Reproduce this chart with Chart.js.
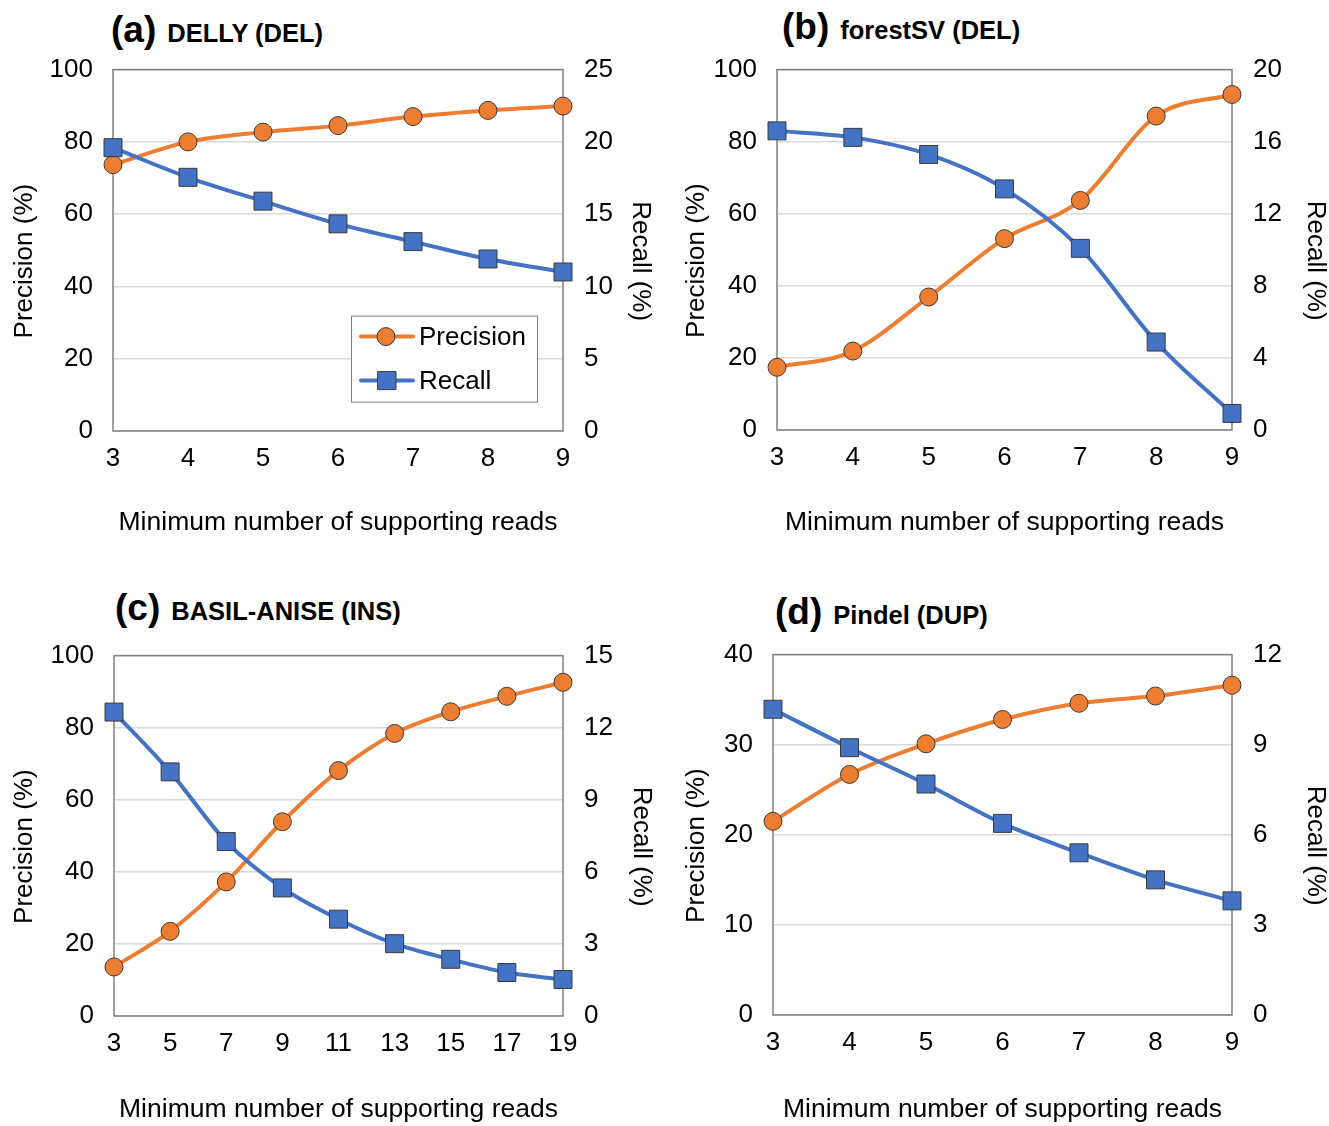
<!DOCTYPE html>
<html lang="en">
<head>
<meta charset="UTF-8">
<title>Precision and recall vs minimum number of supporting reads</title>
<script src="https://cdn.jsdelivr.net/npm/chart.js"></script>
<style>
  body { margin: 0; width: 1329px; height: 1126px; position: relative; overflow: hidden; background: #fff;
         font-family: "Liberation Sans", Arial, sans-serif; }
  .panel-title { position: absolute; display: flex; align-items: baseline; font-weight: bold; color: #000;
                 white-space: nowrap; line-height: 1; }
  .panel-title .tag { font-size: 37px; }
  .panel-title .name { font-size: 25.5px; margin-left: 11px; }
  canvas { position: absolute; }
</style>
</head>
<body>
<div class="panel-title" style="left:111px; top:11px;"><span class="tag">(a)</span><span class="name">DELLY (DEL)</span></div>
<div class="panel-title" style="left:782px; top:8px;"><span class="tag">(b)</span><span class="name">forestSV (DEL)</span></div>
<div class="panel-title" style="left:115px; top:589px;"><span class="tag">(c)</span><span class="name">BASIL-ANISE (INS)</span></div>
<div class="panel-title" style="left:775px; top:593px;"><span class="tag">(d)</span><span class="name">Pindel (DUP)</span></div>

<canvas id="chartA" width="664" height="517" style="left:0; top:33px;"></canvas>
<canvas id="chartB" width="665" height="517" style="left:664px; top:33px;"></canvas>
<canvas id="chartC" width="664" height="507" style="left:0; top:619px;"></canvas>
<canvas id="chartD" width="665" height="508" style="left:664px; top:618px;"></canvas>

<script>
    // (a) DELLY (DEL)
    const readsA = ['3', '4', '5', '6', '7', '8', '9'];
    const precisionA = [73.7, 80.0, 82.7, 84.5, 87.0, 88.7, 89.9];
    const recallA = [19.6, 17.55, 15.9, 14.33, 13.1, 11.9, 11.0];

    // (b) forestSV (DEL)
    const readsB = ['3', '4', '5', '6', '7', '8', '9'];
    const precisionB = [17.4, 21.9, 36.9, 53.1, 63.7, 87.1, 93.1];
    const recallB = [16.6, 16.24, 15.29, 13.38, 10.08, 4.88, 0.92];

    // (c) BASIL-ANISE (INS)
    const readsC = ['3', '5', '7', '9', '11', '13', '15', '17', '19'];
    const precisionC = [13.6, 23.5, 37.2, 53.9, 68.1, 78.4, 84.4, 88.7, 92.6];
    const recallC = [12.65, 10.16, 7.26, 5.33, 4.03, 3.01, 2.36, 1.81, 1.52];

    // (d) Pindel (DUP)
    const readsD = ['3', '4', '5', '6', '7', '8', '9'];
    const precisionD = [21.5, 26.7, 30.1, 32.8, 34.6, 35.4, 36.6];
    const recallD = [10.18, 8.9, 7.69, 6.38, 5.4, 4.5, 3.8];

    const FONT = '"Liberation Sans", Arial, sans-serif';
    const ORANGE = '#ED7D31';
    const BLUE = '#4472C4';
    const MARKER_EDGE = '#3a3a3a';
    // the axis titles sit a little below the middle of the plot in the original
    const NBSP3 = '\u00a0\u00a0\u00a0';

    // grey frame round the plot area, under the lines
    const plotBorder = {
        id: 'plotBorder',
        beforeDatasetsDraw(chart) {
            const a = chart.chartArea;
            const ctx = chart.ctx;
            ctx.save();
            ctx.strokeStyle = '#808080';
            ctx.lineWidth = 1.5;
            ctx.strokeRect(a.left, a.top, a.right - a.left, a.bottom - a.top);
            ctx.restore();
        }
    };

    // boxed legend inside the plot (panel a only)
    const boxLegend = {
        id: 'boxLegend',
        afterDraw(chart, args, opts) {
            if (!opts.show) return;
            const ctx = chart.ctx;
            const left = chart.chartArea.left + opts.dx;
            const top = chart.chartArea.top + opts.dy;
            ctx.save();
            ctx.fillStyle = '#fff';
            ctx.fillRect(left, top, opts.w, opts.h);
            ctx.strokeStyle = '#808080';
            ctx.lineWidth = 1;
            ctx.strokeRect(left + 0.5, top + 0.5, opts.w, opts.h);
            chart.data.datasets.forEach((ds, i) => {
                const y = top + 21 + i * 44;
                ctx.strokeStyle = ds.borderColor;
                ctx.lineWidth = 4;
                ctx.lineCap = 'round';
                ctx.beginPath();
                ctx.moveTo(left + 10, y);
                ctx.lineTo(left + 62, y);
                ctx.stroke();
                ctx.fillStyle = ds.pointBackgroundColor;
                ctx.strokeStyle = MARKER_EDGE;
                ctx.lineWidth = 1;
                ctx.beginPath();
                if (ds.pointStyle === 'rect') {
                    ctx.rect(left + 27, y - 9, 18, 18);
                } else {
                    ctx.arc(left + 35, y, 9, 0, Math.PI * 2);
                }
                ctx.fill();
                ctx.stroke();
                ctx.fillStyle = '#000';
                ctx.font = '26px ' + FONT;
                ctx.textBaseline = 'middle';
                ctx.fillText(ds.label, left + 68, y + 1);
            });
            ctx.restore();
        }
    };

    function makePanel(id, labels, precision, recall, axes, box, legend) {
        const font = { family: FONT, size: 26 };
        new Chart(document.getElementById(id), {
            type: 'line',
            data: {
                labels: labels,
                datasets: [
                    {
                        label: 'Precision',
                        data: precision,
                        yAxisID: 'y',
                        borderColor: ORANGE,
                        backgroundColor: ORANGE,
                        borderWidth: 4,
                        pointStyle: 'circle',
                        pointRadius: 9,
                        pointBackgroundColor: ORANGE,
                        pointBorderColor: MARKER_EDGE,
                        pointBorderWidth: 1,
                        cubicInterpolationMode: 'monotone',
                        clip: false,
                        order: 1
                    },
                    {
                        label: 'Recall',
                        data: recall,
                        yAxisID: 'y1',
                        borderColor: BLUE,
                        backgroundColor: BLUE,
                        borderWidth: 4,
                        pointStyle: 'rect',
                        pointRadius: 12.7,
                        pointBackgroundColor: BLUE,
                        pointBorderColor: MARKER_EDGE,
                        pointBorderWidth: 1,
                        cubicInterpolationMode: 'monotone',
                        clip: false,
                        order: 0
                    }
                ]
            },
            options: {
                responsive: false,
                animation: false,
                devicePixelRatio: 1,
                layout: { padding: 0 },
                plugins: {
                    legend: { display: false },
                    tooltip: { enabled: false },
                    boxLegend: legend
                },
                scales: {
                    x: {
                        type: 'category',
                        offset: false,
                        grid: { display: false, drawTicks: false },
                        border: { display: false },
                        ticks: { padding: 12, color: '#000', font: font, autoSkip: false, maxRotation: 0 },
                        title: {
                            display: true,
                            text: 'Minimum number of supporting reads',
                            color: '#000',
                            font: { family: FONT, size: 26.5 },
                            padding: { top: 0, bottom: box.xTitlePad }
                        },
                        afterFit(s) { s.height = box.xH; }
                    },
                    y: {
                        position: 'left',
                        min: 0,
                        max: axes.leftMax,
                        ticks: { stepSize: axes.leftStep, padding: 20, color: '#000', font: font },
                        grid: { color: '#d9d9d9', lineWidth: 1.5, drawTicks: false },
                        border: { display: false },
                        title: {
                            display: true,
                            text: 'Precision (%)' + NBSP3,
                            color: '#000',
                            font: font,
                            padding: { top: box.leftTitlePad, bottom: 0 }
                        },
                        afterFit(s) { s.width = box.leftW; }
                    },
                    y1: {
                        position: 'right',
                        min: 0,
                        max: axes.rightMax,
                        ticks: { stepSize: axes.rightStep, padding: 21, color: '#000', font: font },
                        grid: { display: false, drawTicks: false },
                        border: { display: false },
                        title: {
                            display: true,
                            text: NBSP3 + 'Recall (%)',
                            color: '#000',
                            font: font,
                            padding: { top: box.rightTitlePad, bottom: 0 }
                        },
                        afterFit(s) { s.width = box.rightW; }
                    }
                }
            },
            plugins: [plotBorder, boxLegend]
        });
    }

    makePanel('chartA', readsA, precisionA, recallA,
        { leftMax: 100, leftStep: 20, rightMax: 25, rightStep: 5 },
        { leftW: 113, rightW: 101, xH: 119, xTitlePad: 11, leftTitlePad: 9, rightTitlePad: 8 },
        { show: true, dx: 238, dy: 246, w: 186, h: 86 });

    makePanel('chartB', readsB, precisionB, recallB,
        { leftMax: 100, leftStep: 20, rightMax: 20, rightStep: 4 },
        { leftW: 113, rightW: 97, xH: 120, xTitlePad: 11, leftTitlePad: 17, rightTitlePad: -2 },
        { show: false });

    makePanel('chartC', readsC, precisionC, recallC,
        { leftMax: 100, leftStep: 20, rightMax: 15, rightStep: 3 },
        { leftW: 114, rightW: 101, xH: 110, xTitlePad: 0, leftTitlePad: 9, rightTitlePad: 7 },
        { show: false });

    makePanel('chartD', readsD, precisionD, recallD,
        { leftMax: 40, leftStep: 10, rightMax: 12, rightStep: 3 },
        { leftW: 109, rightW: 97, xH: 111, xTitlePad: 0, leftTitlePad: 17, rightTitlePad: -2 },
        { show: false });
</script>
</body>
</html>
